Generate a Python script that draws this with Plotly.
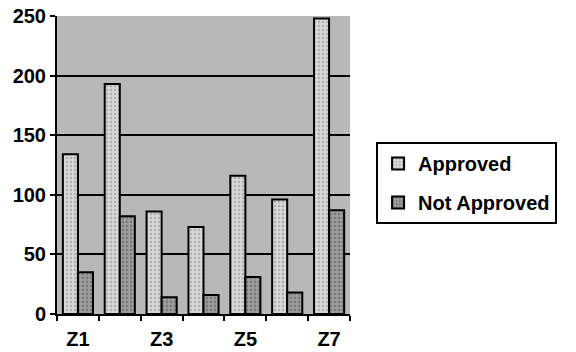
import plotly.graph_objects as go

categories = ["Z1", "Z2", "Z3", "Z4", "Z5", "Z6", "Z7"]
approved = [134, 193, 86, 73, 116, 96, 248]
not_approved = [35, 82, 14, 16, 31, 18, 87]
tick_text = ["Z1", "", "Z3", "", "Z5", "", "Z7"]
y_ticks = [0, 50, 100, 150, 200, 250]

fig = go.Figure()
fig.add_trace(go.Bar(
    x=categories, y=approved, name="Approved", legendgroup="a",
    marker=dict(color="#d8d8d8", line=dict(color="black", width=2),
                pattern=dict(shape=".", fgcolor="#888888", size=4, solidity=0.3)),
))
fig.add_trace(go.Bar(
    x=categories, y=not_approved, name="Not Approved", legendgroup="b",
    marker=dict(color="#a0a0a0", line=dict(color="black", width=2),
                pattern=dict(shape=".", fgcolor="#555555", size=4, solidity=0.4)),
))

fam = "Liberation Sans, Arial, sans-serif"
fig.update_layout(
    width=576, height=352,
    margin=dict(l=57, r=226, t=16, b=38, autoexpand=False),
    paper_bgcolor="white", plot_bgcolor="#b8b8b8",
    barmode="group", bargap=0.28, bargroupgap=0.0,
    font=dict(family=fam, size=18, color="black"),
    legend=dict(x=1.089, y=0.577, xanchor="left", yanchor="top",
                bordercolor="black", borderwidth=2, bgcolor="white",
                font=dict(family=fam, size=20, color="black", weight="bold"),
                itemwidth=30, tracegroupgap=10),
    xaxis=dict(tickvals=categories, ticktext=tick_text, tickson="boundaries",
               ticks="outside", ticklen=5, tickwidth=2, tickcolor="black",
               showline=True, linecolor="black", linewidth=2,
               ticklabelstandoff=6, automargin=False,
               tickfont=dict(family=fam, size=20, color="black", weight="bold"),
               showgrid=False),
    yaxis=dict(range=[0, 250], tickvals=y_ticks, ticks="outside", ticklen=5,
               tickwidth=2, tickcolor="black", showline=True, linecolor="black",
               linewidth=2, gridcolor="black", gridwidth=2, zeroline=False,
               automargin=False,
               tickfont=dict(family=fam, size=20, color="black", weight="bold")),
)
fig.write_html("out.html")
